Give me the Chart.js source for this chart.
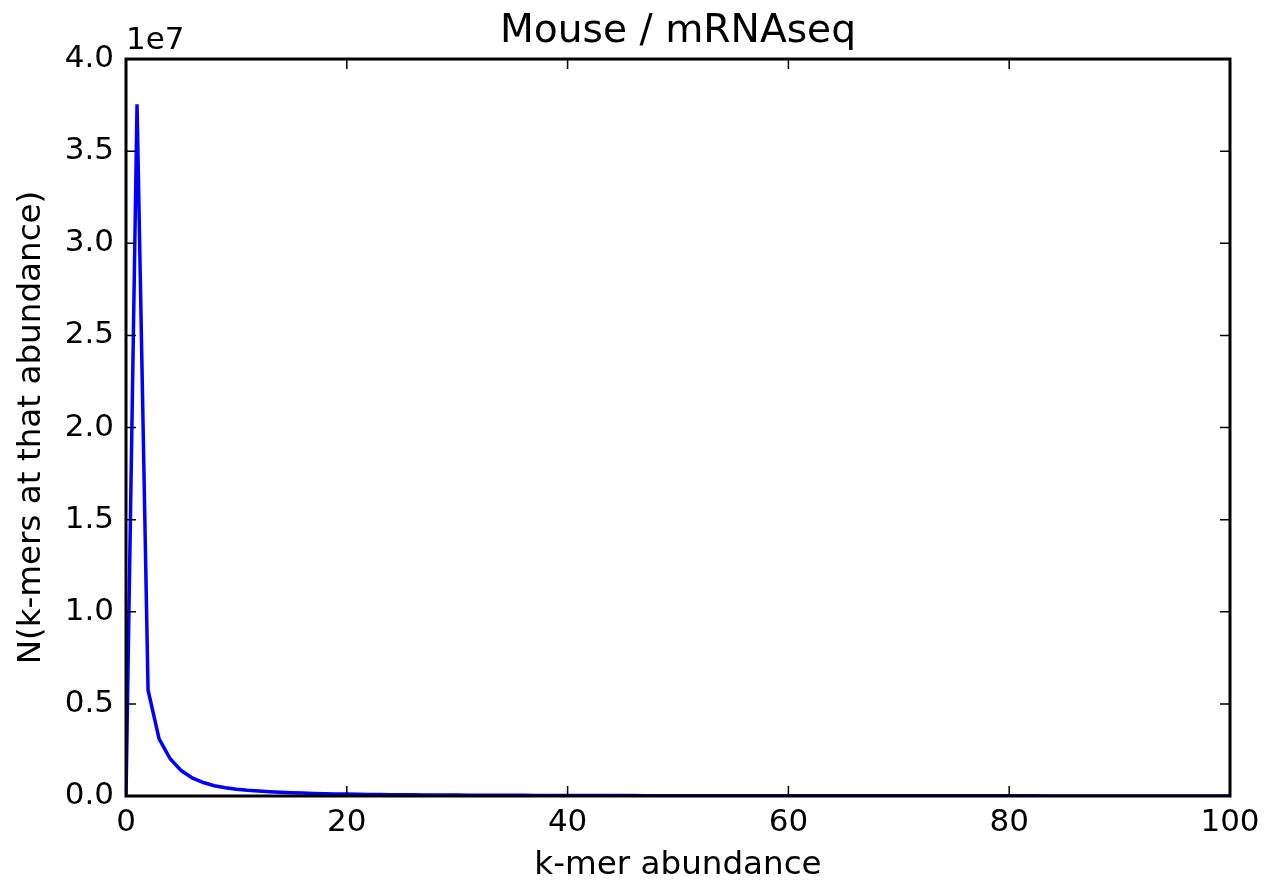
<!DOCTYPE html>
<html>
<head>
<meta charset="utf-8">
<title>Mouse / mRNAseq</title>
<script src="https://cdn.jsdelivr.net/npm/chart.js@4.4.0/dist/chart.umd.min.js"></script>
<style>
  html, body { margin: 0; padding: 0; background: #fff; }
  #chart { display: block; }
</style>
</head>
<body>
<canvas id="chart" width="1270" height="885"></canvas>
<script>
/* DATA */
const abundance = [];
for (let i = 0; i <= 100; i++) abundance.push(i);

// number of k-mers seen at each abundance
const kmerCounts = [
    0, 37550000, 5740000, 3100000, 2020000, 1380000, 980000, 730000, 560000, 450000,
    370000, 310000, 265000, 230000, 200000, 178000, 158000, 141000, 127000, 115000,
    104000, 95000, 87000, 80000, 74000, 68000, 63000, 59000, 55000, 51000,
    48000, 45000, 42000, 40000, 38000, 36000, 34000, 32000, 30000, 29000,
    27000, 26000, 25000, 24000, 23000, 22000, 21000, 20000, 19000, 18000,
    18000, 17000, 16000, 16000, 15000, 15000, 14000, 14000, 13000, 13000,
    12000, 12000, 12000, 11000, 11000, 11000, 10000, 10000, 10000, 9000,
    9000, 9000, 9000, 8000, 8000, 8000, 8000, 8000, 7000, 7000,
    7000, 7000, 7000, 6000, 6000, 6000, 6000, 6000, 6000, 5000,
    5000, 5000, 5000, 5000, 5000, 5000, 5000, 4000, 4000, 4000,
    4000
];

const xTicks = [0, 20, 40, 60, 80, 100];
const yTicks = [0, 5e6, 1e7, 1.5e7, 2e7, 2.5e7, 3e7, 3.5e7, 4e7];
const yOffsetLabel = "1e7";

const FONT = "'DejaVu Sans', sans-serif";

/* FRAME + INWARD TICKS (matplotlib look) */
const framePlugin = {
    id: 'frame',
    afterDatasetsDraw(chart) {
        const { ctx, chartArea: a, scales } = chart;
        ctx.save();
        ctx.strokeStyle = '#000';
        ctx.lineWidth = 1.5;
        const len = 10;
        xTicks.forEach(v => {
            const px = scales.x.getPixelForValue(v);
            ctx.beginPath();
            ctx.moveTo(px, a.bottom); ctx.lineTo(px, a.bottom - len);
            ctx.moveTo(px, a.top); ctx.lineTo(px, a.top + len);
            ctx.stroke();
        });
        yTicks.forEach(v => {
            const py = scales.y.getPixelForValue(v);
            ctx.beginPath();
            ctx.moveTo(a.left, py); ctx.lineTo(a.left + len, py);
            ctx.moveTo(a.right, py); ctx.lineTo(a.right - len, py);
            ctx.stroke();
        });
        ctx.lineWidth = 3;
        ctx.strokeRect(a.left, a.top, a.right - a.left, a.bottom - a.top);

        ctx.fillStyle = '#000';
        ctx.font = '31px ' + FONT;
        ctx.textAlign = 'left';
        ctx.textBaseline = 'alphabetic';
        ctx.fillText(yOffsetLabel, a.left, 49);
        ctx.restore();
    }
};

let ctx = document.getElementById("chart").getContext("2d");

let chart = new Chart(ctx, {
    type: 'line',
    data: {
        datasets: [{
            label: "k-mers",
            data: abundance.map((x, i) => ({ x: x, y: kmerCounts[i] })),
            borderColor: '#0000ff',
            borderWidth: 3.5,
            pointRadius: 0,
            tension: 0,
            fill: false
        }]
    },
    options: {
        responsive: false,
        animation: false,
        devicePixelRatio: 1,
        layout: { padding: { left: 0, right: 40, top: 0, bottom: 0 } },
        plugins: {
            legend: { display: false },
            tooltip: { enabled: false },
            title: {
                display: true,
                text: 'Mouse / mRNAseq',
                fullSize: false,
                color: '#000',
                font: { family: FONT, size: 39.2, weight: 'normal' },
                padding: { top: 8, bottom: 4 }
            }
        },
        scales: {
            x: {
                type: 'linear',
                min: 0,
                max: 100,
                afterFit(scale) { scale.height = 89; },
                afterBuildTicks(scale) { scale.ticks = xTicks.map(v => ({ value: v })); },
                grid: { display: false, drawTicks: false },
                border: { display: false },
                ticks: {
                    color: '#000',
                    padding: 8,
                    maxRotation: 0,
                    font: { family: FONT, size: 31 }
                },
                title: {
                    display: true,
                    text: 'k-mer abundance',
                    color: '#000',
                    font: { family: FONT, size: 32.6 },
                    padding: { top: 1, bottom: 0 }
                }
            },
            y: {
                type: 'linear',
                min: 0,
                max: 4e7,
                afterFit(scale) { scale.width = 126; },
                afterBuildTicks(scale) { scale.ticks = yTicks.map(v => ({ value: v })); },
                grid: { display: false, drawTicks: false },
                border: { display: false },
                ticks: {
                    color: '#000',
                    padding: 12,
                    font: { family: FONT, size: 31 },
                    callback: v => (v / 1e7).toFixed(1)
                },
                title: {
                    display: true,
                    text: 'N(k-mers at that abundance)',
                    color: '#000',
                    font: { family: FONT, size: 32.6 },
                    padding: { top: 12, bottom: 0 }
                }
            }
        }
    },
    plugins: [framePlugin]
});
</script>
</body>
</html>
